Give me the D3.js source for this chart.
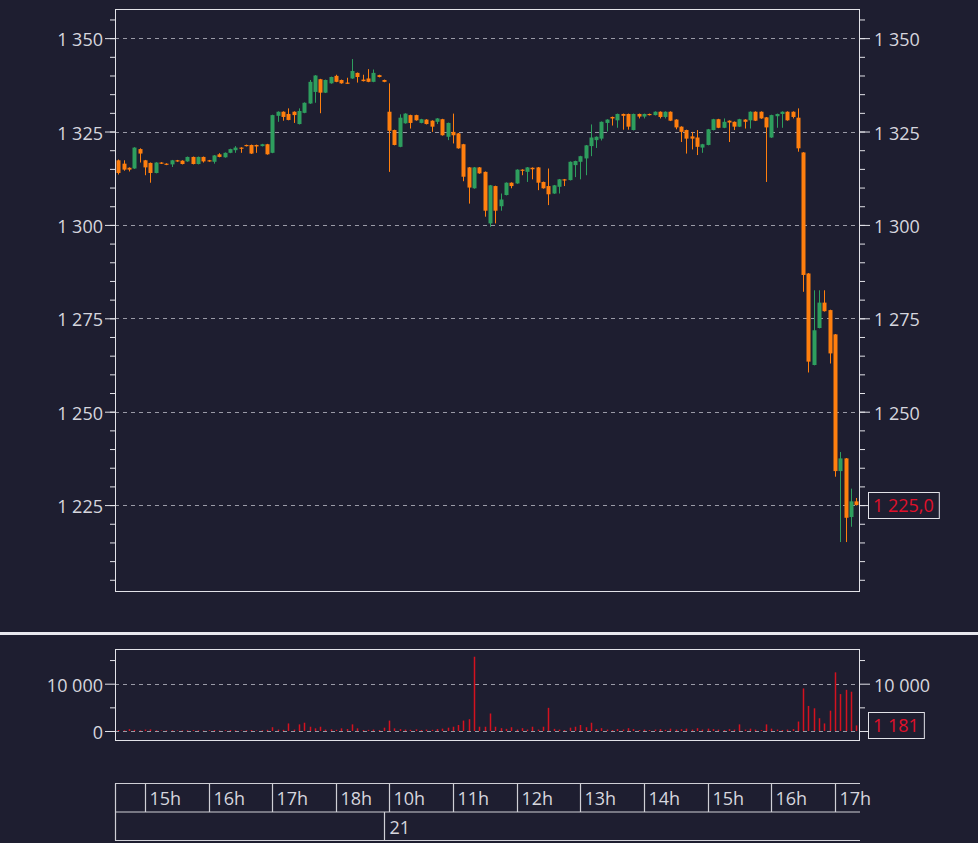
<!DOCTYPE html>
<html><head><meta charset="utf-8">
<script src="https://cdn.jsdelivr.net/npm/d3@7"></script>
<style>
html,body{margin:0;padding:0;background:#1e1e30;}
svg{display:block;}
text{font-family:"Open Sans",sans-serif;}
</style></head>
<body>
<svg id="chart" width="978" height="843"></svg>
<script>
// ---- DATA ----
const sessions = [
  {day: "20", start: "14:35", end: "18:45", showLabel: false},
  {day: "21", start: "10:00", end: "17:20", showLabel: true}
];
const open = [1317.3,1316.4,1315.3,1315.1,1320.3,1317.3,1316.6,1313.9,1316.7,1316.4,1316.2,1317.3,1317.2,1317.0,1318.2,1316.3,1318.2,1317.3,1316.9,1318.9,1318.1,1319.3,1320.0,1320.7,1321.4,1321.4,1321.4,1321.1,1321.6,1319.3,1329.2,1330.3,1329.7,1330.3,1327.0,1330.0,1332.5,1335.6,1339.0,1335.4,1337.9,1339.9,1338.8,1338.1,1339.2,1340.7,1338.9,1339.2,1338.3,1340.1,1338.8,
1330.3,1325.4,1320.9,1327.2,1329.4,1329.4,1327.3,1328.2,1327.9,1327.6,1328.3,1323.6,1324.9,1324.5,1321.6,1315.4,1309.8,1315.4,1314.2,1300.4,1310.4,1305.0,1308.0,1311.3,1311.1,1314.8,1314.2,1315.3,1315.4,1311.5,1310.4,1308.4,1310.2,1312.2,1312.0,1316.0,1316.9,1317.8,1321.1,1322.7,1323.1,1327.3,1328.9,1328.0,1329.7,1329.7,1325.4,1329.7,1329.0,1329.7,1329.4,1330.3,1328.9,1330.3,1328.2,1326.3,1325.4,1323.7,1323.4,1320.7,1321.4,1325.4,1328.3,1326.0,1327.9,1327.6,1326.3,1328.2,1328.0,1330.3,1330.3,1328.8,1323.4,1329.1,1329.7,1330.3,1330.3,1328.7,1319.4,1287.0,1262.5,1272.4,1279.2,1277.2,1270.7,1234.1,1237.5,1221.8,1226.0];
const high = [1317.5,1317.3,1315.4,1320.8,1320.5,1317.4,1316.7,1316.8,1316.8,1316.5,1317.4,1317.4,1317.3,1318.3,1318.3,1318.3,1318.3,1317.4,1318.7,1319.2,1319.4,1320.4,1321.1,1320.8,1321.5,1321.5,1321.5,1321.7,1321.7,1329.5,1330.4,1330.4,1331.2,1330.4,1331.2,1332.8,1338.8,1340.1,1339.1,1338.9,1339.7,1340.2,1338.9,1339.4,1344.4,1340.8,1340.2,1341.7,1341.6,1340.2,1338.9,
1337.9,1325.5,1329.6,1329.9,1329.5,1329.5,1328.4,1328.3,1328.0,1328.6,1328.4,1327.4,1329.8,1324.6,1321.7,1315.5,1315.5,1315.5,1314.3,1310.7,1310.5,1308.4,1311.4,1311.4,1314.9,1314.9,1315.5,1315.4,1315.5,1311.6,1315.1,1310.7,1312.3,1312.3,1317.0,1317.2,1318.5,1321.4,1326.9,1323.7,1327.7,1328.3,1329.0,1329.8,1329.8,1329.8,1329.8,1329.8,1329.8,1329.8,1330.4,1330.4,1330.4,1330.4,1328.3,1326.4,1325.5,1324.9,1325.4,1321.7,1325.7,1328.4,1328.4,1328.5,1328.0,1327.7,1328.4,1328.3,1330.4,1330.4,1330.4,1328.9,1329.5,1329.8,1330.4,1330.4,1330.4,1331.2,1319.5,1287.1,1282.5,1282.5,1282.5,1277.3,1270.8,1239.2,1237.6,1229.4,1226.9];
const low = [1313.5,1314.5,1314.3,1315.0,1316.7,1313.3,1311.3,1313.8,1316.3,1316.0,1315.5,1316.9,1316.2,1316.9,1316.2,1316.2,1316.7,1316.9,1316.4,1318.1,1318.0,1319.2,1319.3,1319.3,1321.0,1319.0,1319.3,1321.0,1318.8,1319.2,1327.6,1327.9,1328.0,1327.3,1326.9,1329.9,1332.4,1332.7,1329.9,1335.3,1337.8,1338.2,1337.8,1337.8,1339.1,1338.1,1338.4,1338.2,1338.2,1339.5,1338.2,
1314.2,1321.3,1320.8,1327.1,1325.8,1327.9,1327.2,1326.9,1324.9,1327.0,1323.9,1322.7,1321.8,1320.4,1311.7,1305.7,1309.7,1313.7,1302.2,1299.5,1300.4,1303.8,1307.9,1309.8,1311.0,1313.3,1311.5,1312.2,1309.3,1309.7,1305.3,1308.3,1308.4,1310.4,1311.9,1312.8,1312.2,1313.3,1318.4,1320.6,1322.6,1325.0,1326.6,1326.0,1325.5,1325.5,1325.3,1328.5,1328.5,1329.3,1329.3,1328.5,1328.5,1327.8,1325.6,1322.2,1319.1,1320.2,1318.7,1319.3,1321.3,1325.3,1325.9,1325.9,1322.2,1325.4,1326.2,1325.8,1325.8,1327.8,1328.4,1311.5,1323.3,1326.0,1326.0,1327.9,1328.5,1319.6,1282.1,1260.5,1262.4,1272.3,1276.8,1262.9,1232.6,1215.1,1215.1,1219.2,1224.9];
const close = [1313.9,1314.8,1314.8,1320.7,1319.1,1315.4,1313.9,1316.7,1316.4,1316.1,1317.3,1317.0,1316.3,1318.2,1316.3,1318.2,1317.0,1317.0,1318.6,1318.2,1319.3,1320.3,1320.7,1320.4,1321.1,1319.1,1321.0,1321.6,1318.9,1329.4,1330.3,1328.9,1328.1,1329.4,1330.5,1332.7,1338.3,1340.0,1335.4,1338.8,1339.6,1338.3,1337.9,1337.9,1341.2,1339.6,1338.5,1338.3,1340.7,1339.6,1338.3,
1325.2,1321.4,1328.7,1329.8,1327.3,1328.0,1328.3,1327.0,1326.3,1328.5,1324.0,1327.3,1324.0,1320.5,1312.9,1310.0,1315.4,1313.8,1303.8,1310.6,1303.8,1306.8,1311.3,1310.4,1314.8,1314.5,1315.4,1314.9,1311.3,1309.8,1308.2,1310.6,1312.2,1311.9,1316.9,1317.1,1318.4,1321.3,1323.4,1323.6,1327.6,1328.2,1328.5,1329.7,1329.2,1326.3,1329.7,1329.0,1329.7,1329.4,1330.3,1328.9,1330.3,1327.9,1326.1,1324.9,1323.1,1323.1,1320.9,1321.6,1325.6,1328.3,1326.0,1327.6,1327.4,1326.3,1328.3,1327.6,1330.3,1327.9,1328.5,1326.1,1329.4,1329.7,1330.3,1328.0,1328.9,1320.5,1286.6,1263.4,1271.8,1279.2,1276.9,1265.6,1234.1,1237.5,1221.6,1226.0,1225.0];
const volume = [200,150,400,250,150,300,350,150,100,120,150,100,120,150,180,150,100,150,200,100,150,200,150,100,150,200,100,150,250,800,300,250,1600,300,1400,1750,900,560,900,300,350,250,560,420,1400,560,200,250,300,200,700,
2200,560,400,300,250,350,200,300,250,400,500,700,900,1270,2200,2500,15700,900,900,3700,900,600,450,800,300,600,300,900,300,900,4900,450,300,200,700,900,1270,800,1750,400,600,300,200,400,300,600,400,200,300,200,300,400,250,500,300,400,500,300,600,300,500,400,300,200,400,300,1400,300,500,300,200,1400,500,300,200,300,400,2000,9000,5300,4800,2700,1600,4300,12400,7800,8700,8300,1181];
const priceTicks = [1225, 1250, 1275, 1300, 1325, 1350];
const volTicks = [0, 10000];

// ---- SETUP ----
const C = {bg:"#1e1e30", up:"#2e9e5e", down:"#ff7f0e", vol:"#d4121f", text:"#d6d6de", axis:"#e2e2e8", grid:"#9a9aa6", label:"#e0102a"};
const loc = d3.formatLocale({decimal: ",", thousands: "\u00a0", grouping: [3], currency: ["", " €"]});
const fmtInt = loc.format(",d");
const fmt1 = loc.format(",.1f");

// bars
const bars = [];
sessions.forEach((s, si) => {
  const [sh, sm] = s.start.split(":").map(Number);
  const [eh, em] = s.end.split(":").map(Number);
  for (let t = sh * 60 + sm; t <= eh * 60 + em; t += 5) {
    bars.push({key: s.day + " " + t, day: s.day, si, hh: Math.floor(t / 60), mm: t % 60});
  }
});
bars.forEach((b, i) => { b.o = open[i]; b.h = high[i]; b.l = low[i]; b.c = close[i]; b.v = volume[i]; });
const last = bars[bars.length - 1];

const L = 115, R = 860;
const svg = d3.select("#chart");
svg.append("rect").attr("width", 978).attr("height", 843).attr("fill", C.bg);

const x = d3.scaleBand().domain(bars.map(b => b.key)).range([115.8, 858.9]);
const cx = b => x(b.key) + x.bandwidth() / 2;

function styleAxis(g) {
  g.selectAll(".domain").remove();
  g.selectAll(".tick line").attr("stroke", C.axis);
  g.selectAll(".tick text").attr("fill", C.text).attr("dy", "0.42em")
    .style("font-size", "18px").style("font-family", "'Open Sans',sans-serif");
}
// right-axis tick labels hidden behind the current value box
function hideUnder(scale, val) {
  return g => g.selectAll(".tick text").filter(d => Math.abs(scale(d) - scale(val)) < 14).remove();
}

// ---- PRICE PANEL ----
const pTop = 9, pBot = 591;
const y = d3.scaleLinear().domain([1202, 1357.8]).range([pBot, pTop]);

svg.append("g").selectAll("line").data(priceTicks).join("line")
  .attr("x1", L).attr("x2", R).attr("y1", d => Math.round(y(d)) + 0.5).attr("y2", d => Math.round(y(d)) + 0.5)
  .attr("stroke", C.grid).attr("stroke-dasharray", "4,4").attr("stroke-width", 1);

const minorP = d3.range(1205, 1358, 5);
svg.append("g").attr("transform", `translate(${L},0)`).call(d3.axisLeft(y).tickValues(minorP).tickSize(5).tickFormat("")).call(styleAxis);
svg.append("g").attr("transform", `translate(${L},0)`).call(d3.axisLeft(y).tickValues(priceTicks).tickSize(10).tickPadding(2).tickFormat(fmtInt)).call(styleAxis);
svg.append("g").attr("transform", `translate(${R},0)`).call(d3.axisRight(y).tickValues(minorP).tickSize(5).tickFormat("")).call(styleAxis);
svg.append("g").attr("transform", `translate(${R},0)`).call(d3.axisRight(y).tickValues(priceTicks).tickSize(10).tickPadding(4).tickFormat(fmtInt)).call(styleAxis).call(hideUnder(y, last.c));

const gC = svg.append("g");
const col = b => b.c >= b.o ? C.up : C.down;
gC.selectAll("line.wick").data(bars).join("line").attr("class", "wick")
  .attr("x1", b => Math.round(cx(b)) + 0.5).attr("x2", b => Math.round(cx(b)) + 0.5)
  .attr("y1", b => y(b.h)).attr("y2", b => y(b.l)).attr("stroke", col).attr("stroke-width", 1);
gC.selectAll("rect.body").data(bars).join("rect").attr("class", "body")
  .attr("x", b => Math.round(cx(b)) - 1.5).attr("width", 4)
  .attr("y", b => Math.min(y(b.o), y(b.c)))
  .attr("height", b => Math.max(1.2, Math.abs(y(b.o) - y(b.c))))
  .attr("fill", col);

svg.append("rect").attr("x", L + 0.5).attr("y", pTop + 0.5).attr("width", R - L - 1).attr("height", pBot - pTop)
  .attr("fill", "none").attr("stroke", C.axis).attr("stroke-width", 1);

function valueLabel(yy, txt) {
  const g = svg.append("g");
  const t = g.append("text").attr("x", 873).attr("y", yy).attr("dy", "0.38em")
    .attr("fill", C.label).style("font-size", "18px").text(txt);
  const w = t.node().getComputedTextLength();
  g.insert("rect", "text").attr("x", 868.5).attr("y", Math.round(yy) - 12.5).attr("width", w + 10).attr("height", 26)
    .attr("fill", C.bg).attr("stroke", C.axis).attr("stroke-width", 1);
}
valueLabel(y(last.c), fmt1(last.c));

// separator
svg.append("line").attr("x1", 0).attr("x2", 978).attr("y1", 633.5).attr("y2", 633.5).attr("stroke", "#e8e8ee").attr("stroke-width", 3);

// ---- VOLUME PANEL ----
const vTop = 649, vBot = 740;
const yv = d3.scaleLinear().domain([-1903, 17336]).range([vBot, vTop]);
svg.append("g").selectAll("line").data(volTicks).join("line")
  .attr("x1", L).attr("x2", R).attr("y1", d => Math.round(yv(d)) + 0.5).attr("y2", d => Math.round(yv(d)) + 0.5)
  .attr("stroke", C.grid).attr("stroke-dasharray", "4,4");
const minorV = [5000, 15000];
svg.append("g").attr("transform", `translate(${L},0)`).call(d3.axisLeft(yv).tickValues(minorV).tickSize(5).tickFormat("")).call(styleAxis);
svg.append("g").attr("transform", `translate(${L},0)`).call(d3.axisLeft(yv).tickValues(volTicks).tickSize(10).tickPadding(2).tickFormat(fmtInt)).call(styleAxis);
svg.append("g").attr("transform", `translate(${R},0)`).call(d3.axisRight(yv).tickValues(minorV).tickSize(5).tickFormat("")).call(styleAxis);
svg.append("g").attr("transform", `translate(${R},0)`).call(d3.axisRight(yv).tickValues(volTicks).tickSize(10).tickPadding(4).tickFormat(fmtInt)).call(styleAxis).call(hideUnder(yv, last.v));

svg.append("g").selectAll("rect").data(bars).join("rect")
  .attr("x", b => Math.round(cx(b)) - 0.25).attr("width", 1.5)
  .attr("y", b => yv(b.v)).attr("height", b => yv(0) - yv(b.v))
  .attr("fill", C.vol);
svg.append("rect").attr("x", L + 0.5).attr("y", vTop + 0.5).attr("width", R - L - 1).attr("height", vBot - vTop)
  .attr("fill", "none").attr("stroke", C.axis);
valueLabel(yv(last.v), fmtInt(last.v));

// ---- TIME AXIS ----
const r1 = 783.5, r2 = 812, r3 = 840.5;
const gT = svg.append("g").attr("stroke", "#cfcfd6").attr("stroke-width", 1.2);
[r1, r2, r3].forEach(yy => gT.append("line").attr("x1", L).attr("x2", R).attr("y1", yy).attr("y2", yy));
gT.append("line").attr("x1", L + 0.5).attr("x2", L + 0.5).attr("y1", r1).attr("y2", r3);
const hourBars = bars.filter(b => b.mm === 0);
hourBars.forEach(b => {
  const xx = Math.round(cx(b)) + 0.5;
  if (xx < R - 2) gT.append("line").attr("x1", xx).attr("x2", xx).attr("y1", r1).attr("y2", r2);
  svg.append("text").attr("x", xx + 4).attr("y", 805).attr("fill", C.text).style("font-size", "18px").text(b.hh + "h");
});
sessions.forEach((s, si) => {
  if (si === 0) return;
  const prevLast = bars.filter(b => b.si === si - 1).pop();
  const xx = Math.round(cx(prevLast)) + 0.5;
  gT.append("line").attr("x1", xx).attr("x2", xx).attr("y1", r2).attr("y2", r3);
  if (s.showLabel) svg.append("text").attr("x", xx + 5).attr("y", 834).attr("fill", C.text).style("font-size", "18px").text(s.day);
});
</script>
</body></html>
